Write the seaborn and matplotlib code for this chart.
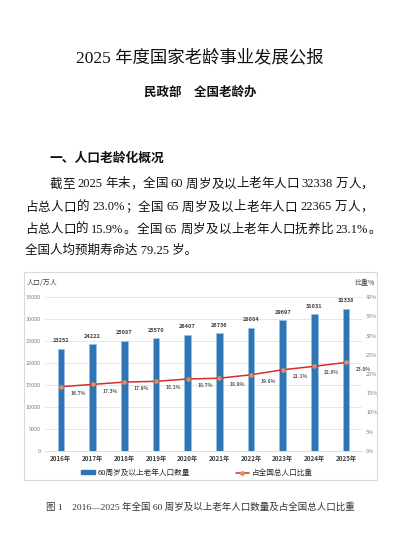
import re
import matplotlib
matplotlib.use("Agg")
import matplotlib.pyplot as plt
from matplotlib.patches import Rectangle, Patch
from matplotlib.lines import Line2D
from matplotlib.ticker import FuncFormatter
import seaborn
import pandas

years = ["2016年", "2017年", "2018年", "2019年", "2020年",
         "2021年", "2022年", "2023年", "2024年", "2025年"]
population = [23252, 24222, 25087, 25570, 26407, 26736, 28004, 29697, 31031, 32338]
ratio = [16.7, 17.3, 17.9, 18.1, 18.7, 18.9, 19.8, 21.1, 22.0, 23.0]

title = "2025 年度国家老龄事业发展公报"
subtitle = "民政部　全国老龄办"
heading = "一、人口老龄化概况"
para_lines = [
    "截至 2025 年末，全国 60 周岁及以上老年人口 32338 万人，",
    "占总人口的 23.0%；全国 65 周岁及以上老年人口 22365 万人，",
    "占总人口的 15.9%。全国 65 周岁及以上老年人口抚养比 23.1%。",
    "全国人均预期寿命达 79.25 岁。",
]
caption = "图 1　2016—2025 年全国 60 周岁及以上老年人口数量及占全国总人口比重"
bar_name = "60周岁及以上老年人口数量"
line_name = "占全国总人口比重"

W, H = 400, 558
BLUE = "#2E75B6"
RED = "#D92B2B"
MARK = "#D8915E"

seaborn.set_theme(style="white")
plt.rcParams["font.family"] = ["Liberation Serif", "Noto Sans CJK SC", "DejaVu Sans"]
SANS = ["Noto Sans CJK SC", "DejaVu Sans"]


def fx(x):
    return x / W


def fy(y):
    return 1 - y / H


def justified_line(fig, s, x0, x1, y, size):
    # spread the tokens of one paragraph line between x0 and x1 (pixels)
    renderer = fig.canvas.get_renderer()
    parts = re.findall(r"\s+|[A-Za-z0-9.%]+|\S", s)
    toks = []
    space_before = False
    for p in parts:
        if p.isspace():
            space_before = True
            continue
        toks.append((p, space_before))
        space_before = False
    objs = []
    widths = []
    for t, _ in toks:
        o = fig.text(0, fy(y), t, ha="left", va="baseline", fontsize=size, color="#111111")
        widths.append(o.get_window_extent(renderer).width)
        objs.append(o)
    sp = size * 0.3
    n_sp = sum(1 for _, b in toks if b)
    gap = (x1 - x0 - sum(widths) - n_sp * sp) / (len(toks) - 1)
    x = x0
    for i, (o, (t, b)) in enumerate(zip(objs, toks)):
        if i > 0:
            x += gap + (sp if b else 0)
        o.set_x(fx(x))
        x += widths[i]


fig = plt.figure(figsize=(W / 100, H / 100), dpi=100)
fig.patch.set_facecolor("white")

# document text
fig.text(0.5, fy(58), title, ha="center", va="center", fontsize=12.5, color="#111111")
fig.text(0.5, fy(92), subtitle, ha="center", va="center", fontsize=9,
         fontweight="bold", family=SANS, color="#111111")
fig.text(fx(50), fy(158), heading, ha="left", va="center", fontsize=9.2,
         fontweight="bold", family=SANS, color="#111111")
line_y = [183, 206, 228, 249]
line_x = [50, 25, 25, 25]
line_end = [373, 373, 381]
for k, (txt, lx, ly) in enumerate(zip(para_lines, line_x, line_y)):
    if k < len(line_end):
        justified_line(fig, txt, lx, line_end[k], ly + 4.5, 9)
    else:
        fig.text(fx(lx), fy(ly + 4.5), txt, ha="left", va="baseline", fontsize=9,
                 color="#111111")

# chart frame
fig.add_artist(Rectangle((fx(24), fy(480)), fx(377) - fx(24), fy(272) - fy(480),
                         transform=fig.transFigure, fill=False,
                         edgecolor="#D9D9D9", linewidth=0.8))

ax = fig.add_axes([fx(45), fy(451), fx(362) - fx(45), fy(297) - fy(451)])
df = pandas.DataFrame({"year": years, "pop": population, "ratio": ratio})

seaborn.barplot(data=df, x="year", y="pop", ax=ax, color=BLUE, width=0.21,
                saturation=1, edgecolor="#9DC3E6", linewidth=0.4)
ax.set_ylim(0, 35000)
ax.set_yticks(range(0, 35001, 5000))
ax.yaxis.grid(True, color="#E3E3E3", linewidth=0.6)
ax.set_axisbelow(True)
for s in ["top", "right", "left"]:
    ax.spines[s].set_visible(False)
ax.spines["bottom"].set_color("#D9D9D9")
ax.spines["bottom"].set_linewidth(0.6)
ax.set_xlabel("")
ax.set_ylabel("")
ax.tick_params(axis="y", length=0, labelsize=4, labelcolor="#7F7F7F", pad=3)
ax.tick_params(axis="x", length=0, labelsize=4.5, labelcolor="#404040", pad=3)
for lab in ax.get_xticklabels():
    lab.set_fontweight("bold")
    lab.set_family(SANS)
for lab in ax.get_yticklabels():
    lab.set_family(SANS)

for i, v in enumerate(population):
    ax.annotate(str(v), (i, v), xytext=(0, 4), textcoords="offset points",
                ha="center", va="bottom", fontsize=4, fontweight="bold",
                color="#404040", family=SANS)

ax2 = ax.twinx()
seaborn.pointplot(data=df, x="year", y="ratio", ax=ax2, color=RED,
                  markers="o", markersize=2.5, linewidth=1.1)
for ln in ax2.lines:
    ln.set_markerfacecolor(MARK)
    ln.set_markeredgecolor(MARK)
ax2.set_ylim(0, 40)
ax2.set_yticks(range(0, 41, 5))
ax2.yaxis.set_major_formatter(FuncFormatter(lambda v, p: f"{v:.0f}%"))
for s in ["top", "right", "left", "bottom"]:
    ax2.spines[s].set_visible(False)
ax2.set_xlabel("")
ax2.set_ylabel("")
ax2.grid(False)
ax2.tick_params(axis="y", length=0, labelsize=4, labelcolor="#7F7F7F", pad=3)
for lab in ax2.get_yticklabels():
    lab.set_family(SANS)

for i, r in enumerate(ratio):
    ax2.annotate(f"{r:.1f}%", (i, r), xytext=(7, -3), textcoords="offset points",
                 ha="left", va="top", fontsize=3.6, fontweight="bold",
                 color="#595959", family=SANS)

fig.text(fx(27), fy(283), "人口/万人", ha="left", va="center", fontsize=5,
         color="#404040", family=SANS)
fig.text(fx(375), fy(283), "比重%", ha="right", va="center", fontsize=5,
         color="#404040", family=SANS)

handles = [
    Patch(facecolor=BLUE, edgecolor=BLUE),
    Line2D([0], [0], color=RED, linewidth=1.1, marker="o", markersize=2.5,
           markerfacecolor=MARK, markeredgecolor=MARK),
]
fig.legend(handles, [bar_name, line_name], loc="center",
           bbox_to_anchor=(fx(197), fy(473)), ncol=2, frameon=False,
           prop={"family": SANS, "size": 5.5}, handlelength=1.8,
           handleheight=0.5, handletextpad=0.3, columnspacing=6.0)

fig.text(0.5, fy(507), caption, ha="center", va="center", fontsize=6.8,
         color="#333333")

fig.savefig("out.png", dpi=100, facecolor="white")
